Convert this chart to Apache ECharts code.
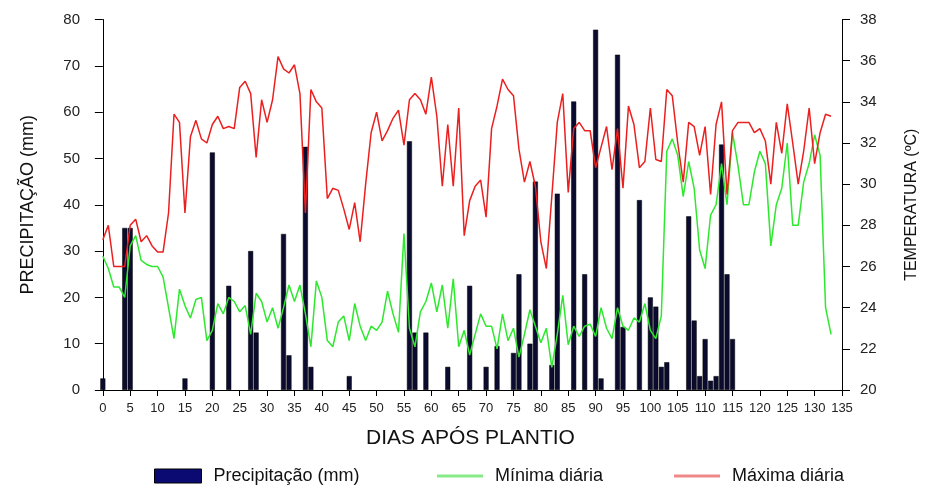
<!DOCTYPE html>
<html>
<head>
<meta charset="utf-8">
<script src="https://cdn.jsdelivr.net/npm/echarts@6/dist/echarts.min.js"></script>
<style>
html,body{margin:0;padding:0;background:#fff;}
#chart{width:929px;height:485px;}
</style>
</head>
<body>
<div id="chart"></div>
<script>
// X tick labels (days after planting)
const xTicks = [0,5,10,15,20,25,30,35,40,45,50,55,60,65,70,75,80,85,90,95,100,105,110,115,120,125,130,135];

// Precipitation (mm): day and amount
const rainDays = [0,4,5,15,20,23,27,28,33,34,37,38,45,56,57,59,63,67,70,72,75,76,78,79,82,83,86,88,90,91,94,95,98,100,101,102,103,107,108,109,110,111,112,113,114,115];
const rainMm   = [2.5,35,35,2.5,51.3,22.5,30,12.4,33.7,7.5,52.5,5,3,53.7,12.4,12.4,5,22.5,5,9.5,8,25,10,45,5.4,42.4,62.3,25,77.8,2.5,72.4,13.6,41,20,18,5,6,37.5,15,3,11,2,3,53,25,11];

// Daily maximum temperature (°C), day 0 .. 133
const maxTemp = [27.3,28.0,26.0,26.0,26.0,28.0,28.3,27.2,27.5,27.0,
  26.7,26.7,28.6,33.4,33.0,28.6,32.3,33.1,32.2,32.0,
  32.9,33.3,32.7,32.8,32.7,34.7,35.0,34.4,31.3,34.1,
  33.0,34.1,36.2,35.6,35.4,35.8,34.4,28.6,34.6,34.0,
  33.7,29.3,29.8,29.7,28.8,27.8,29.1,27.2,30.0,32.5,
  33.5,32.1,32.6,33.2,33.6,31.9,34.1,34.4,34.1,33.4,
  35.2,33.3,29.9,32.9,29.9,33.7,27.5,29.2,29.9,30.2,
  28.4,32.7,33.8,35.1,34.6,34.3,31.7,30.1,31.1,29.9,
  27.2,25.9,29.4,33.0,34.4,29.6,32.7,33.0,32.6,32.6,
  30.8,31.8,32.8,30.7,32.7,29.8,33.8,32.9,30.8,31.1,
  33.7,31.2,31.1,34.6,34.3,32.0,30.1,33.0,32.8,31.4,
  32.8,29.5,32.9,34.0,29.5,32.6,33.0,33.0,33.0,32.5,
  32.7,32.1,30.0,33.0,31.5,33.9,32.0,30.0,31.6,33.7,
  31.0,32.5,33.4,33.3];

// Daily minimum temperature (°C), day 0 .. 133
const minTemp = [26.5,25.9,25.0,25.0,24.5,27.0,27.5,26.3,26.1,26.0,
  26.0,25.5,24.0,22.5,24.9,24.1,23.5,24.4,24.5,22.4,
  22.9,24.2,23.7,24.5,24.3,23.8,24.1,22.7,24.7,24.3,
  23.3,24.0,23.0,24.0,25.1,24.3,25.1,23.7,22.1,25.3,
  24.5,22.4,22.1,23.3,23.6,22.4,24.2,23.1,22.4,23.1,
  22.9,23.3,24.8,23.7,22.8,27.6,23.0,22.1,23.8,24.3,
  25.2,23.8,25.1,23.0,25.4,22.1,22.9,21.7,22.7,23.7,
  23.1,23.1,22.0,23.7,22.4,23.0,21.6,22.7,23.9,23.1,
  22.3,23.0,21.1,22.7,24.6,22.2,23.1,22.6,23.1,23.2,
  22.6,24.0,23.0,22.5,24.0,23.1,22.9,23.5,23.3,24.2,
  22.9,22.5,23.6,31.6,32.2,31.4,29.4,31.1,29.8,26.8,
  25.9,28.5,29.0,31.0,29.0,32.5,30.9,29.0,29.0,30.6,
  31.6,31.0,27.0,29.0,29.8,32.0,28.0,28.0,30.1,31.0,
  32.4,31.4,24.0,22.7];

const FONT = '"Liberation Sans", Arial, Helvetica, sans-serif';

const rainData = rainDays.map((d, i) => [d, rainMm[i]]);
const maxData = maxTemp.map((v, i) => [i, v]);
const minData = minTemp.map((v, i) => [i, v]);

const chart = echarts.init(document.getElementById('chart'), null, {renderer: 'canvas'});

const legendBase = {
  orient: 'horizontal',
  top: 462,
  itemGap: 0,
  textStyle: {fontFamily: FONT, fontSize: 18, color: '#111', padding: [0, 0, 0, 7]},
  selectedMode: false
};

chart.setOption({
  animation: false,
  backgroundColor: '#fff',
  grid: {left: 99, right: 87, top: 19.5, bottom: 95, containLabel: false},
  xAxis: {
    type: 'value',
    min: -0.7,
    max: 135,
    name: 'DIAS APÓS PLANTIO',
    nameLocation: 'middle',
    nameGap: 38,
    nameTextStyle: {fontFamily: FONT, fontSize: 21, color: '#111'},
    axisLine: {show: true, onZero: false, lineStyle: {color: '#000', width: 1}},
    axisTick: {show: true, customValues: xTicks, length: 6, lineStyle: {color: '#000'}},
    axisLabel: {customValues: xTicks, fontFamily: FONT, fontSize: 13, color: '#222', margin: 12},
    splitLine: {show: false}
  },
  yAxis: [
    {
      type: 'value', min: 0, max: 80, interval: 10, position: 'left',
      name: 'PRECIPITAÇÃO (mm)', nameLocation: 'middle', nameGap: 62, nameRotate: 90,
      nameTextStyle: {fontFamily: FONT, fontSize: 18, color: '#111'},
      axisLine: {show: true, lineStyle: {color: '#000', width: 1}},
      axisTick: {show: true, length: 8, lineStyle: {color: '#000'}},
      axisLabel: {fontFamily: FONT, fontSize: 15, color: '#222', margin: 19},
      splitLine: {show: false}
    },
    {
      type: 'value', min: 20, max: 38, interval: 2, position: 'right',
      name: 'TEMPERATURA (ºC)', nameLocation: 'middle', nameGap: 62, nameRotate: 90,
      nameTextStyle: {fontFamily: FONT, fontSize: 16, color: '#111'},
      axisLine: {show: true, lineStyle: {color: '#000', width: 1}},
      axisTick: {show: true, length: 8, lineStyle: {color: '#000'}},
      axisLabel: {fontFamily: FONT, fontSize: 15, color: '#222', margin: 18},
      splitLine: {show: false}
    }
  ],
  legend: [
    Object.assign({}, legendBase, {
      left: 149, itemWidth: 47, itemHeight: 14,
      data: [{name: 'Precipitação (mm)', icon: 'rect', itemStyle: {color: '#0a0a72', borderColor: '#000', borderWidth: 1}}]
    }),
    Object.assign({}, legendBase, {
      left: 432, itemWidth: 46, itemHeight: 3,
      data: [{name: 'Mínima diária', icon: 'rect', itemStyle: {color: '#86ea86', borderWidth: 0}}]
    }),
    Object.assign({}, legendBase, {
      left: 669, itemWidth: 46, itemHeight: 3,
      data: [{name: 'Máxima diária', icon: 'rect', itemStyle: {color: '#ef8888', borderWidth: 0}}]
    })
  ],
  series: [
    {
      name: 'Precipitação (mm)', type: 'bar', xAxisIndex: 0, yAxisIndex: 0,
      data: rainData, barWidth: 5,
      itemStyle: {color: '#0b0b30', borderColor: '#000', borderWidth: 0.5}
    },
    {
      name: 'Mínima diária', type: 'line', xAxisIndex: 0, yAxisIndex: 1,
      data: minData, showSymbol: false, symbol: 'none',
      lineStyle: {color: '#2de82d', width: 1.5}, itemStyle: {color: '#2de82d'}
    },
    {
      name: 'Máxima diária', type: 'line', xAxisIndex: 0, yAxisIndex: 1,
      data: maxData, showSymbol: false, symbol: 'none',
      lineStyle: {color: '#ec1f1f', width: 1.5}, itemStyle: {color: '#ec1f1f'}
    }
  ]
});
</script>
</body>
</html>
